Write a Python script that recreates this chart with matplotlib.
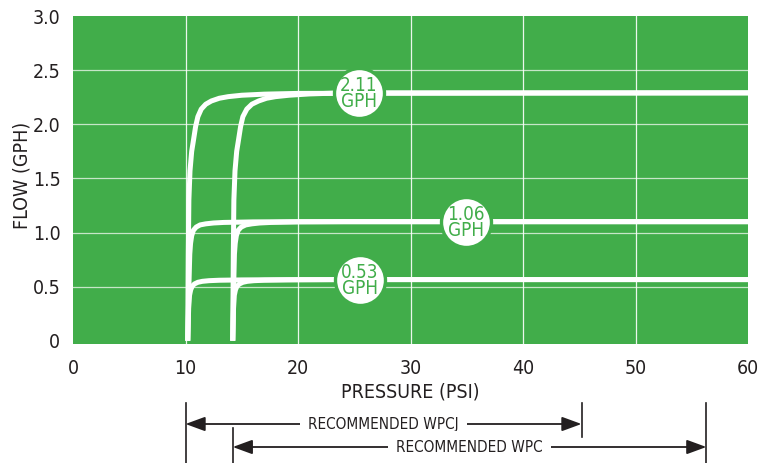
import matplotlib
matplotlib.use("Agg")
import matplotlib.pyplot as plt
from matplotlib import font_manager as fm
from matplotlib.transforms import blended_transform_factory

# ---------------- data ----------------
x_ticks = [0, 10, 20, 30, 40, 50, 60]
y_ticks = [0, 0.5, 1.0, 1.5, 2.0, 2.5, 3.0]
y_tick_labels = ["0", "0.5", "1.0", "1.5", "2.0", "2.5", "3.0"]

# 2.11 GPH curves (pressure PSI, flow GPH)
p_211_a = [10.2, 10.25, 10.3, 10.4, 10.55, 10.72, 10.9, 11.1, 11.4, 11.8, 12.3, 13.0, 13.8, 15.0, 17.0, 20.0, 60.0]
f_211_a = [0.0, 0.8, 1.3, 1.57, 1.75, 1.86, 1.98, 2.07, 2.14, 2.185, 2.215, 2.24, 2.255, 2.268, 2.278, 2.285, 2.29]
p_211_b = [14.2, 14.25, 14.3, 14.4, 14.55, 14.72, 14.9, 15.1, 15.45, 15.9, 16.5, 17.2, 18.0, 19.2, 21.0, 24.0, 60.0]
f_211_b = [0.0, 0.8, 1.3, 1.57, 1.75, 1.86, 1.98, 2.07, 2.14, 2.185, 2.215, 2.24, 2.255, 2.268, 2.28, 2.29, 2.29]

# 1.06 GPH curves
p_106_a = [10.2, 10.3, 10.38, 10.45, 10.55, 10.7, 10.95, 11.3, 11.8, 12.5, 13.4, 16.0, 20.0, 60.0]
f_106_a = [0.0, 0.5, 0.8, 0.9, 0.97, 1.02, 1.05, 1.07, 1.08, 1.088, 1.093, 1.098, 1.10, 1.10]
p_106_b = [14.2, 14.28, 14.35, 14.42, 14.52, 14.68, 14.95, 15.35, 15.9, 16.6, 17.6, 20.0, 24.0, 60.0]
f_106_b = [0.0, 0.5, 0.8, 0.9, 0.97, 1.02, 1.05, 1.07, 1.08, 1.088, 1.093, 1.098, 1.10, 1.10]

# 0.53 GPH curves
p_053_a = [10.2, 10.28, 10.36, 10.46, 10.6, 10.8, 11.1, 11.5, 12.1, 13.0, 15.0, 20.0, 60.0]
f_053_a = [0.0, 0.3, 0.42, 0.47, 0.505, 0.525, 0.54, 0.549, 0.555, 0.559, 0.562, 0.565, 0.565]
p_053_b = [14.2, 14.27, 14.34, 14.44, 14.58, 14.8, 15.1, 15.5, 16.1, 17.0, 19.0, 24.0, 60.0]
f_053_b = [0.0, 0.3, 0.42, 0.47, 0.505, 0.525, 0.54, 0.549, 0.555, 0.559, 0.562, 0.565, 0.565]

badge_text = ["2.11\nGPH", "1.06\nGPH", "0.53\nGPH"]
badge_x = [25.4, 34.9, 25.5]
badge_y = [2.29, 1.10, 0.565]

range_names = ["RECOMMENDED WPCJ", "RECOMMENDED WPC"]
range_start = [10.0, 14.2]
range_end = [45.2, 56.3]

# ---------------- fonts ----------------
chosen = None
for e in fm.fontManager.ttflist:
    if e.name == "Liberation Sans Narrow" and e.weight in (400, "normal") and e.style == "normal":
        chosen = (e.name, "normal")
        break
if chosen is None:
    for e in fm.fontManager.ttflist:
        if e.name == "DejaVu Sans" and str(e.stretch) in ("condensed", "semi-condensed") \
                and e.weight in (400, "normal") and e.style == "normal":
            chosen = ("DejaVu Sans", e.stretch)
            break
if chosen is None:
    chosen = ("Roboto", "normal") if any(e.name == "Roboto" for e in fm.fontManager.ttflist) else ("DejaVu Sans", "normal")
plt.rcParams["font.family"] = [chosen[0], "DejaVu Sans"]
plt.rcParams["font.stretch"] = chosen[1]

GREEN = "#41ad4a"
DARK = "#231f20"

W, H = 766, 463
fig = plt.figure(figsize=(W / 100, H / 100), dpi=100)
ax = fig.add_axes([73 / W, 1 - 344 / H, (748 - 73) / W, (344 - 16) / H])
ax.set_facecolor(GREEN)
ax.set_xlim(0, 60)
ax.set_ylim(-0.03, 3.0)
for s in ax.spines.values():
    s.set_visible(False)

# grid
for gx in x_ticks[1:-1]:
    ax.axvline(gx, color="white", lw=0.9, alpha=0.9, zorder=1)
for gy in y_ticks[1:-1]:
    ax.axhline(gy, color="white", lw=0.9, alpha=0.7, zorder=1)

ax.set_xticks(x_ticks)
ax.set_xticklabels([str(v) for v in x_ticks])
ax.set_yticks(y_ticks)
ax.set_yticklabels(y_tick_labels)
ax.tick_params(length=0, labelsize=14, colors=DARK)
ax.tick_params(axis="x", pad=11)
ax.tick_params(axis="y", pad=9)

curves = [(p_211_a, f_211_a), (p_211_b, f_211_b),
          (p_106_a, f_106_a), (p_106_b, f_106_b),
          (p_053_a, f_053_a), (p_053_b, f_053_b)]
for p, f in curves:
    ax.plot(p, f, color="white", lw=3.6, solid_joinstyle="round",
            solid_capstyle="butt", zorder=3, clip_on=True)

# badges
ax.scatter(badge_x, badge_y, s=36 ** 2, color="white", edgecolors=GREEN,
           linewidths=2.4, zorder=5)
for t, bx, by in zip(badge_text, badge_x, badge_y):
    ax.text(bx, by - 0.01, t, color=GREEN, fontsize=13.5, ha="center", va="center",
            linespacing=0.8, zorder=6)

ax.set_xlabel("PRESSURE (PSI)", fontsize=14, color=DARK, labelpad=3)
fig.text(22 / W, 1 - 175 / H, "FLOW (GPH)", rotation=90, fontsize=14,
         color=DARK, ha="center", va="center")

# recommended ranges below the axis
tr = blended_transform_factory(ax.transData, fig.transFigure)
def fy(py):
    return 1 - py / H

bars = [(range_start[0], 403, 463), (range_end[0], 403, 437),
        (range_start[1], 428, 463), (range_end[1], 403, 463)]
for bx, y0, y1 in bars:
    ax.plot([bx, bx], [fy(y0), fy(y1)], transform=tr, color=DARK, lw=1.2,
            clip_on=False)

arrow_y = [424, 447]
for name, xs, xe, ay in zip(range_names, range_start, range_end, arrow_y):
    ax.annotate("", xy=(xe, fy(ay)), xytext=(xs, fy(ay)), xycoords=tr, textcoords=tr,
                arrowprops=dict(arrowstyle="<|-|>,head_length=0.6,head_width=0.22",
                                mutation_scale=20, lw=1.3, color=DARK,
                                shrinkA=0, shrinkB=0), annotation_clip=False)
    ax.text((xs + xe) / 2, fy(ay), name, transform=tr, fontsize=11, color=DARK,
            ha="center", va="center",
            bbox=dict(boxstyle="square,pad=0.55", fc="white", ec="none"))

fig.savefig("out.png", dpi=100, facecolor="white")
